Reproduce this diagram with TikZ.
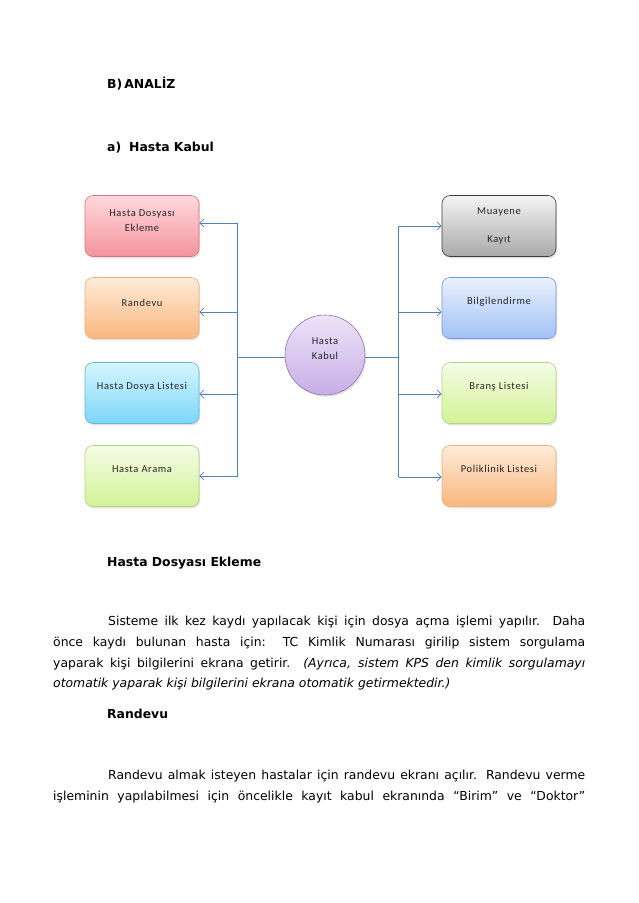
\documentclass[tikz,border=0pt]{standalone}
\usepackage{fontspec}
\setmainfont{DejaVu Sans}
\newfontfamily\boxfont[LetterSpace=6]{Carlito}
\usetikzlibrary{arrows.meta,shadows}
\definecolor{conn}{HTML}{4F81BD}
\definecolor{redT}{HTML}{FFD9DD}\definecolor{redB}{HTML}{F4939C}\definecolor{redD}{HTML}{D9737D}
\definecolor{oraT}{HTML}{FEEBD9}\definecolor{oraB}{HTML}{F9B77E}\definecolor{oraD}{HTML}{F0AE78}
\definecolor{cyaT}{HTML}{D6F5FF}\definecolor{cyaB}{HTML}{7CD6F7}\definecolor{cyaD}{HTML}{5DB7DE}
\definecolor{grnT}{HTML}{F5FCE6}\definecolor{grnB}{HTML}{D2F296}\definecolor{grnD}{HTML}{B3D57E}
\definecolor{gryT}{HTML}{F4F4F4}\definecolor{gryB}{HTML}{A9A9A9}\definecolor{gryD}{HTML}{3C3C3C}
\definecolor{bluT}{HTML}{EAF1FE}\definecolor{bluB}{HTML}{A2C1F5}\definecolor{bluD}{HTML}{6E98D8}
\definecolor{vioT}{HTML}{EEE3F8}\definecolor{vioB}{HTML}{C7AEE6}\definecolor{vioD}{HTML}{8F6FB5}
\begin{document}
\begin{tikzpicture}[x=1pt,y=-1pt,
  box/.style={draw, rounded corners=8pt, minimum width=114pt, minimum height=61pt, inner sep=0pt, line width=0.6pt,
    drop shadow={opacity=0.22, shadow xshift=1.2pt, shadow yshift=-1.8pt}},
  boxc/.style={box, draw=#1D, top color=#1T, bottom color=#1B},
  bt/.style={font=\boxfont\fontsize{10.5}{15}\selectfont, align=center, inner sep=0pt, text=black!85},
  arr/.style={draw=conn, line width=0.7pt, -{Straight Barb[length=4pt,width=8pt]}},
  ln/.style={draw=conn, line width=0.7pt},
  body/.style={anchor=base west, inner sep=0pt, font=\fontsize{12.4}{20.8}\selectfont},
  head/.style={anchor=base west, inner sep=0pt, font=\bfseries\fontsize{12.4}{20.8}\selectfont},
]
\useasboundingbox[fill=white] (0,0) rectangle (638,903);

% headings
\node[head] (hB) at (107,88.5) {B)\hspace{2pt}ANALİZ};
\node[head] (ha) at (107,151) {a)\hspace{8pt}Hasta Kabul};

% left boxes
\node[boxc=red] (l1) at (142,226) {};
\node[boxc=ora] (l2) at (142,308) {};
\node[boxc=cya] (l3) at (142,393) {};
\node[boxc=grn] (l4) at (142,476) {};
% right boxes
\node[boxc=gry] (r1) at (499,226) {};
\node[boxc=blu] (r2) at (499,308) {};
\node[boxc=grn] (r3) at (499,393) {};
\node[boxc=ora] (r4) at (499,476) {};

% centre
\node[circle, draw=vioD, line width=0.6pt, minimum size=80pt, inner sep=0pt,
  top color=vioT, bottom color=vioB,
  drop shadow={opacity=0.22, shadow xshift=1.2pt, shadow yshift=-1.8pt}] (c) at (325,355) {};

% box texts
\node[bt] (tl1) at ([yshift=5.5pt]l1.center) {Hasta Dosyası\\Ekleme};
\node[bt] (tl2) at ([yshift=5pt]l2.center) {Randevu};
\node[bt] (tl3) at ([yshift=6pt]l3.center) {Hasta Dosya Listesi};
\node[bt] (tl4) at ([yshift=7pt]l4.center) {Hasta Arama};
\node[bt] (tr1) at ([yshift=0pt]r1.center) {Muayene\\[13pt]Kayıt};
\node[bt] (tr2) at ([yshift=6pt]r2.center) {Bilgilendirme};
\node[bt] (tr3) at ([yshift=6pt]r3.center) {Branş Listesi};
\node[bt] (tr4) at ([yshift=7pt]r4.center) {Poliklinik Listesi};
\node[bt] (tc) at ([yshift=6pt]c.center) {Hasta\\Kabul};

% connectors
\coordinate (lj) at (237.5,357);
\coordinate (rj) at (398.5,357);
\coordinate (lb1) at (237.5,223);
\coordinate (lb2) at (237.5,312);
\coordinate (lb3) at (237.5,394);
\coordinate (lb4) at (237.5,476);
\coordinate (rb1) at (398.5,226);
\coordinate (rb2) at (398.5,312);
\coordinate (rb3) at (398.5,394);
\coordinate (rb4) at (398.5,477);
\draw[ln] (c.west |- lj) -- (lj);
\draw[ln] (c.east |- rj) -- (rj);
\draw[ln] (lb1) -- (lb4);
\draw[ln] (rb1) -- (rb4);
\draw[arr] (lb1) -- (l1.east |- lb1);
\draw[arr] (lb2) -- (l2.east |- lb2);
\draw[arr] (lb3) -- (l3.east |- lb3);
\draw[arr] (lb4) -- (l4.east |- lb4);
\draw[arr] (rb1) -- (r1.west |- rb1);
\draw[arr] (rb2) -- (r2.west |- rb2);
\draw[arr] (rb3) -- (r3.west |- rb3);
\draw[arr] (rb4) -- (r4.west |- rb4);

% section: Hasta Dosyası Ekleme
\node[head] (h1) at (107,566) {Hasta Dosyası Ekleme};
\node[body] (p1a) at (108,625.5) {\makebox[477pt][s]{Sisteme ilk kez kaydı yapılacak kişi için dosya açma işlemi yapılır. Daha}};
\node[body] (p1b) at (53,646.3) {\makebox[532pt][s]{önce kaydı bulunan hasta için: TC Kimlik Numarası girilip sistem sorgulama}};
\node[body] (p1c) at (53,667.1) {\makebox[532pt][s]{yaparak kişi bilgilerini ekrana getirir. \itshape (Ayrıca, sistem KPS den kimlik sorgulamayı}};
\node[body] (p1d) at (53,687.9) {\itshape otomatik yaparak kişi bilgilerini ekrana otomatik getirmektedir.)};

% section: Randevu
\node[head] (h2) at (107,718.5) {Randevu};
\node[body] (p2a) at (108,779.5) {\makebox[477pt][s]{Randevu almak isteyen hastalar için randevu ekranı açılır. Randevu verme}};
\node[body] (p2b) at (53,800.3) {\makebox[532pt][s]{işleminin yapılabilmesi için öncelikle kayıt kabul ekranında “Birim” ve “Doktor”}};
\end{tikzpicture}
\end{document}
